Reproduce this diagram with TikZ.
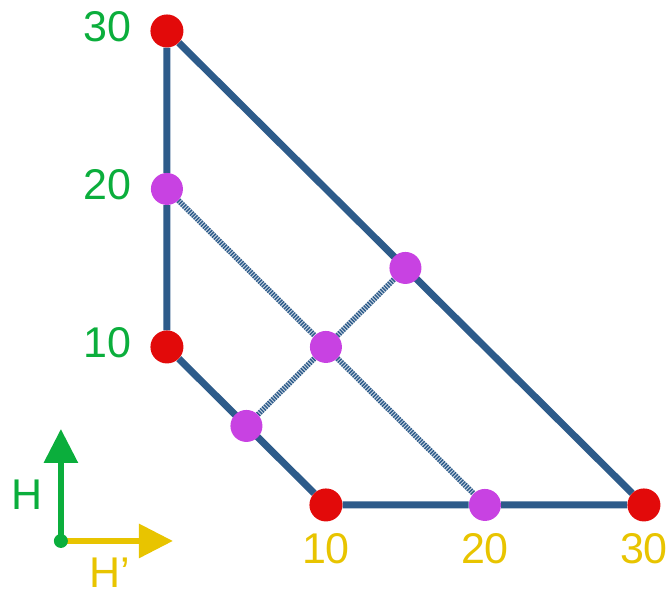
\documentclass[tikz,border=0pt]{standalone}
\usepackage{fontspec}
\setmainfont{Liberation Sans}
\usetikzlibrary{arrows.meta,positioning,backgrounds}
\definecolor{tgline}{HTML}{2D5B8A}
\definecolor{tgred}{HTML}{E20A0A}
\definecolor{tgpink}{HTML}{C842E2}
\definecolor{tggreen}{HTML}{0BAE3C}
\definecolor{tggold}{HTML}{E8C400}
\tikzset{
  vtx/.style={circle,fill=tgred,minimum size=33pt,inner sep=0pt},
  half/.style={circle,fill=tgpink,minimum size=32pt,inner sep=0pt},
  edge/.style={draw=tgline,line width=7pt},
  hatch/.style={draw=tgline!25,line width=5.5pt,
                postaction={draw=tgline,line width=5.5pt,dash pattern=on 1.4pt off 1.2pt}},
  hlab/.style={font=\fontsize{43}{48}\selectfont,text=tggreen,inner sep=0pt,anchor=east},
  plab/.style={font=\fontsize{43}{48}\selectfont,text=tggold,inner sep=0pt},
  axis/.style={line width=6pt,-{Triangle[length=34pt,width=33pt]}},
}
\begin{document}
\begin{tikzpicture}[x=15.9pt,y=15.8pt]
    \useasboundingbox (-10.5,-5.51) rectangle (31.64,31.96);
    % corners
    \node[vtx] (a30) at (0,30) {};
    \node[vtx] (a10) at (0,10) {};
    \node[vtx] (b10) at (10,0) {};
    \node[vtx] (b30) at (30,0) {};
    % halfway points
    \node[half] (a20) at (0,20) {};
    \node[half] (b20) at (20,0) {};
    \node[half] (m15) at (15,15) {};
    \node[half] (m10) at (10,10) {};
    \node[half] (m5) at (5,5) {};
    \begin{scope}[on background layer]
      \draw[edge] (a10)--(a20)--(a30)--(b30)--(b20)--(b10)--(a10);
      \draw[hatch] (a20)--(m10)--(b20);
      \draw[hatch] (m5)--(m10)--(m15);
    \end{scope}
    % axis labels
    \foreach \v in {10,20,30}
      {\node[hlab] (h\v) at (-2.2,\v+0.3) {\v};
       \node[plab] (p\v) at (\v,-2.78) {\v};}
    % legend
    \coordinate (o) at (-6.67,-2.28);
    \coordinate (oup) at (-6.67,4.81);
    \coordinate (oright) at (0.38,-2.28);
    \draw[axis,tggold] (o)--(oright);
    \draw[axis,tggreen] (o)--(oup);
    \node[circle,fill=tggreen,minimum size=14pt,inner sep=0pt] (odot) at (o) {};
    \node[plab,text=tggreen] (hname) at (-8.8,0.63) {H};
    \node[plab] (hpname) at (-3.58,-4.3) {H’};
  \end{tikzpicture}
\end{document}
